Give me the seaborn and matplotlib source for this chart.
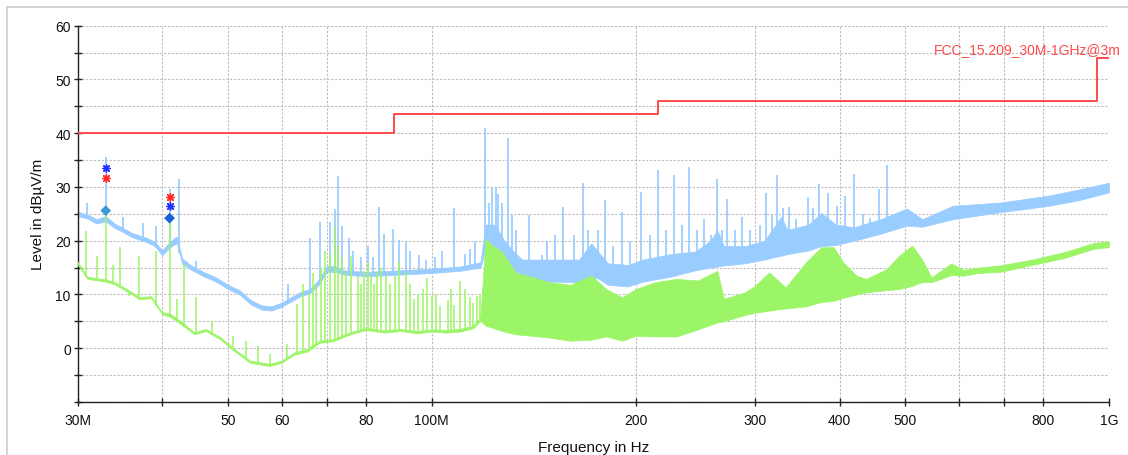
import numpy as np
import pandas as pd
import matplotlib
matplotlib.use("Agg")
import matplotlib.pyplot as plt
from matplotlib.patches import Rectangle
from matplotlib.ticker import FixedLocator, FixedFormatter, NullLocator
import seaborn as sns

# ---- scan data (frequencies in MHz, levels in dBuV/m) ----
# peak detector trace: lower / upper edge of the noise band
peak_freq = [30, 31, 32, 33, 34, 35, 36, 37, 38, 39, 40, 41, 42, 42.8, 44, 46, 48, 50,
             52, 54, 56, 58, 60, 62, 64, 66, 68, 70, 72, 74, 80, 90, 100, 110, 118,
             120, 124, 128, 132, 136, 150, 165, 172, 176, 182, 195, 205, 225, 245,
             258, 264, 270, 290, 310, 322, 328, 335, 360, 376, 395, 420, 460, 503,
             530, 588, 690, 815, 900, 1000]
peak_lo = [24.6, 24.1, 23.2, 23.6, 22.4, 21.6, 20.7, 20.2, 19.7, 19.0, 17.3, 18.7, 19.6,
           15.7, 14.7, 13.4, 12.4, 11.0, 10.0, 8.2, 7.2, 7.0, 7.7, 8.7, 9.7, 10.2, 11.7,
           14.2, 14.2, 13.7, 13.4, 13.7, 14.0, 14.4, 15.0, 18.5, 18.5, 15.5, 14.0,
           12.8, 12.4, 12.3, 13.0, 13.0, 11.8, 11.5, 12.4, 13.3, 14.5,
           15.0, 15.2, 15.4, 15.8, 16.5, 17.0, 17.2, 17.5, 18.2, 19.0, 19.2, 20.0, 21.3,
           22.8, 22.6, 24.0, 25.3, 26.5, 27.5, 29.0]
peak_hi = [25.4, 24.9, 24.0, 24.6, 23.2, 22.4, 21.5, 21.0, 20.5, 19.8, 18.2, 19.8, 20.8,
           16.7, 15.5, 14.2, 13.2, 11.8, 10.8, 9.0, 8.0, 7.8, 8.5, 9.5, 10.5, 11.0, 12.7,
           15.3, 15.3, 14.5, 14.2, 14.5, 14.8, 15.2, 16.0, 23.0, 23.0, 20.0, 18.0,
           16.5, 16.5, 16.5, 19.5, 18.0, 15.8, 15.5, 16.5, 17.5, 18.0,
           20.0, 22.0, 19.0, 19.0, 20.0, 23.0, 24.5, 22.0, 23.0, 25.2, 23.0, 22.5, 24.0,
           26.0, 24.0, 26.5, 27.1, 28.4, 29.5, 30.8]

# narrow emissions on the peak trace
peak_spike_freq = [31.0, 33.0, 35.0, 37.4, 39.2, 41.0, 42.4, 44.9, 61.3, 66.2, 68.4,
                   70.7, 71.9, 72.8, 73.7, 75.4, 76.5, 78.5, 80.5, 82.0, 83.5, 85.0,
                   87.7, 89.4, 91.5, 93.0, 95.9, 98.0, 101.0, 103.5, 107.7, 112.0,
                   114.0, 116.0, 120.0, 121.5, 122.7, 124.3, 125.4, 127.0, 129.4,
                   131.2, 133.0, 139.0, 145.7, 148, 152, 156, 162, 167, 170, 176, 180,
                   185, 191, 196, 204, 210, 216, 222, 228, 234, 240, 246, 252, 258,
                   264, 268, 273, 280, 287, 295, 305, 312, 318, 323, 330, 337, 345,
                   359, 366, 373, 385, 396, 408, 420, 433, 444, 457, 470]
peak_spike_level = [27.1, 35.5, 24.4, 23.3, 22.8, 29.6, 31.5, 16.3, 12.0, 20.6, 23.4,
                    23.4, 25.9, 32.0, 22.8, 20.5, 18.0, 17.0, 19.0, 17.0, 26.2, 21.3,
                    22.2, 20.2, 19.7, 18.0, 17.3, 16.5, 17.0, 18.0, 26.0, 17.5,
                    18.5, 20.0, 40.9, 27.0, 29.9, 29.9, 28.7, 27.0, 39.1,
                    24.7, 22.0, 24.7, 17.3, 20.0, 21.0, 26.2, 21.0, 30.7, 22.0, 22.0,
                    27.6, 19.0, 25.3, 20.0, 29.0, 21.0, 33.2, 22.0, 32.2, 23.0, 33.7,
                    22.0, 24.0, 21.0, 31.5, 22.0, 27.8, 22.0, 24.4, 22.0, 23.0, 28.9,
                    25.0, 32.2, 26.0, 26.2, 24.0, 28.1, 26.0, 30.6, 28.9, 26.5, 28.4,
                    32.4, 25.0, 24.2, 29.6, 34.0]

# average detector trace
avg_freq = [30, 31, 33, 34, 36, 37, 38.5, 40, 41, 42.4, 44.6, 46.4, 48.8, 50.7, 53.9,
            57.6, 60, 62.6, 65.5, 68.2, 71.5, 75.8, 80, 85, 90, 95, 100, 105, 110,
            115, 118, 120, 123, 127, 133, 149, 160, 172, 181, 191, 200, 214, 230,
            247, 264, 270, 290, 300, 315, 333, 357, 376, 392, 405, 424, 438, 469,
            490, 512, 529, 547, 585, 610, 640, 690, 770, 860, 950, 1000]
avg_lo = [15.6, 12.9, 12.4, 11.9, 10.1, 9.1, 9.3, 6.3, 5.9, 4.7, 2.6, 3.2, 1.6, -0.2,
          -2.7, -3.3, -2.7, -1.2, -0.6, 1.0, 1.3, 2.6, 3.4, 2.9, 3.2, 2.8, 3.1, 2.9,
          3.1, 3.7, 5.1, 4.2, 3.8, 3.2, 2.6, 2.0, 1.4, 1.6, 2.2, 1.4, 2.3, 2.2, 2.2,
          3.5, 4.8, 5.0, 6.2, 6.6, 7.0, 7.4, 7.8, 8.6, 8.8, 9.4, 10.0, 10.4, 10.8,
          11.0, 11.6, 12.3, 12.3, 13.6, 13.5, 14.0, 14.2, 15.5, 16.8, 18.5, 18.8]
avg_hi = [16.1, 13.3, 12.8, 12.3, 10.5, 9.5, 9.7, 6.7, 6.5, 5.2, 3.0, 3.6, 2.0, 0.2,
          -2.3, -2.9, -2.3, -0.8, -0.1, 1.4, 1.7, 3.0, 3.8, 3.3, 3.6, 3.2, 3.5, 3.4,
          3.6, 4.2, 5.7, 20.3, 19.1, 17.9, 14.1, 12.3, 11.8, 13.5, 11.0, 9.5, 11.0,
          12.3, 12.9, 12.6, 14.4, 9.2, 10.4, 11.6, 14.1, 11.3, 16.0, 18.8, 18.8, 16.0,
          13.5, 12.9, 14.7, 17.2, 19.1, 16.6, 13.2, 15.8, 14.6, 15.0, 15.4, 16.5,
          17.9, 19.6, 19.9]

avg_spike_freq = [30.9, 32.0, 33.0, 33.8, 34.6, 35.7, 36.9, 39.2, 41.0, 42.1, 43.1,
                  44.9, 47.4, 50.9, 53.1, 55.3, 57.6, 61.1, 63.3, 64.5, 65.9, 66.8,
                  67.5, 68.7, 69.5, 70.7, 71.9, 72.8, 73.7, 74.8, 76.0, 77.7, 78.5,
                  79.4, 80.5, 81.4, 82.2, 83.0, 84.2, 85.5, 86.8, 88.3, 89.5, 91.5,
                  92.8, 94.0, 95.5, 97.0, 98.5, 100.0, 101.5, 103.0, 105.5, 106.8,
                  108.0, 110.0, 111.8, 113.7, 114.9, 116.5, 117.8, 119.0]
avg_spike_level = [21.9, 17.2, 25.5, 15.4, 18.8, 9.8, 17.2, 18.1, 24.2, 9.2, 15.7,
                   9.5, 5.1, 2.3, 1.4, 0.5, -1.1, 0.8, 8.2, 12.0, 10.0, 14.0,
                   12.0, 15.0, 18.0, 17.5, 22.5, 19.0, 17.0, 14.0, 17.2, 13.5, 12.0,
                   14.4, 16.0, 13.5, 12.0, 14.1, 15.0, 13.5, 12.0, 13.5, 16.0, 14.1,
                   12.0, 9.2, 10.0, 11.0, 13.0, 9.8, 10.0, 7.9, 9.0, 11.0,
                   8.0, 12.6, 11.0, 9.5, 8.5, 9.8, 10.0, 11.0]

# limit line FCC 15.209 @ 3 m
limit_freq = [30, 88, 216, 960, 1000]
limit_level = [40.0, 43.5, 46.0, 54.0, 54.0]
limit_name = "FCC_15.209_30M-1GHz@3m"

# final measurement markers
marker_freq = [33.0, 41.0]
marker_peak = [33.5, 26.5]
marker_qp = [31.7, 28.1]
marker_avg = [25.6, 24.2]
marker_avg_colors = ["#3a9ad9", "#1560d6"]

# axis ticks
xtick_mhz = [30, 40, 50, 60, 70, 80, 100, 200, 300, 400, 500, 600, 700, 800, 1000]
xtick_labels = ["30M", "", "50", "60", "", "80", "100M", "200", "300", "400", "500",
                "", "", "800", "1G"]
ytick_values = [-10, -5, 0, 5, 10, 15, 20, 25, 30, 35, 40, 45, 50, 55, 60]
ytick_labels = ["", "", "0", "", "10", "", "20", "", "30", "", "40", "", "50", "", "60"]

# ---- drawing ----
sns.set_theme(style="white")
plt.rcParams["font.family"] = ["Liberation Sans", "DejaVu Sans"]

BLUE = "#99ccff"
GREEN = "#9cf566"
RED = "#ff4a4a"
MHZ = 1e6

fig = plt.figure(figsize=(11.28, 4.56), dpi=100)
fig.patch.set_facecolor("white")
fig.patches.append(Rectangle((7 / 1128, -0.05), 1.2, 1.05 - 8 / 456,
                             transform=fig.transFigure, fill=False,
                             edgecolor="#cfcfcf", linewidth=1.3))
ax = fig.add_axes([77.7 / 1128, 1 - 403 / 456, (1109 - 77.7) / 1128, (403 - 26.7) / 456])
ax.set_xscale("log")


def spikes(freq, level, base_freq, base_lo, color, lw):
    f = np.asarray(freq, float)
    base = np.interp(np.log10(f), np.log10(base_freq), base_lo)
    ax.vlines(f * MHZ, base, np.asarray(level, float), color=color, linewidth=lw, zorder=3)


# peak trace
pf = np.asarray(peak_freq, float) * MHZ
ax.fill_between(pf, peak_lo, peak_hi, color=BLUE, linewidth=0.5, edgecolor=BLUE, zorder=2)
spikes(peak_spike_freq, peak_spike_level, peak_freq, peak_lo, BLUE, 1.25)

# average trace
af = np.asarray(avg_freq, float) * MHZ
ax.fill_between(af, avg_lo, avg_hi, color=GREEN, linewidth=0.5, edgecolor=GREEN, zorder=4)
spikes(avg_spike_freq, avg_spike_level, avg_freq, avg_lo, GREEN, 1.1)

# limit line
limit_df = pd.DataFrame({"f": np.asarray(limit_freq, float) * MHZ, "level": limit_level})
sns.lineplot(data=limit_df, x="f", y="level", ax=ax, color=RED, linewidth=1.4,
             drawstyle="steps-post", estimator=None, sort=False, zorder=5)
ax.annotate(limit_name, xy=(limit_freq[-1] * MHZ, limit_level[-1]), xytext=(8.5, 3.5),
            textcoords="offset points", ha="right", va="baseline", color=RED,
            fontsize=10, annotation_clip=False, zorder=6)

# markers
mf = np.asarray(marker_freq, float) * MHZ
ax.scatter(mf, marker_avg, marker="D", s=30, c=marker_avg_colors, linewidths=0, zorder=7)
sns.scatterplot(x=mf, y=marker_qp, ax=ax, marker=(8, 2, 0), s=28, color="#ff2a2a",
                linewidth=1.0, zorder=8)
sns.scatterplot(x=mf, y=marker_peak, ax=ax, marker=(8, 2, 0), s=28, color="#2233ff",
                linewidth=1.0, zorder=8)

# axes styling
ax.set_xlim(30 * MHZ, 1000 * MHZ)
ax.set_ylim(-10, 60)
ax.xaxis.set_major_locator(FixedLocator([v * MHZ for v in xtick_mhz]))
ax.xaxis.set_major_formatter(FixedFormatter(xtick_labels))
ax.xaxis.set_minor_locator(NullLocator())
ax.yaxis.set_major_locator(FixedLocator(ytick_values))
ax.yaxis.set_major_formatter(FixedFormatter(ytick_labels))
ax.grid(True, which="major", color="#bdbdbd", linestyle=(0, (2, 1.5)), linewidth=0.8)
ax.set_axisbelow(True)
for side in ("top", "right"):
    ax.spines[side].set_visible(False)
for side in ("left", "bottom"):
    ax.spines[side].set_color("#222222")
    ax.spines[side].set_linewidth(1.0)
ax.tick_params(axis="both", direction="inout", length=6, width=1.0, color="#222222",
               labelsize=10, labelcolor="#111111", bottom=True, left=True)
ax.tick_params(axis="x", pad=5)
ax.tick_params(axis="y", pad=2)
ax.set_xlabel("Frequency in Hz", fontsize=11, color="#111111", labelpad=9)
ax.set_ylabel("Level in dBµV/m", fontsize=11, color="#111111", labelpad=7)

fig.savefig("out.png", dpi=100, facecolor="white")
